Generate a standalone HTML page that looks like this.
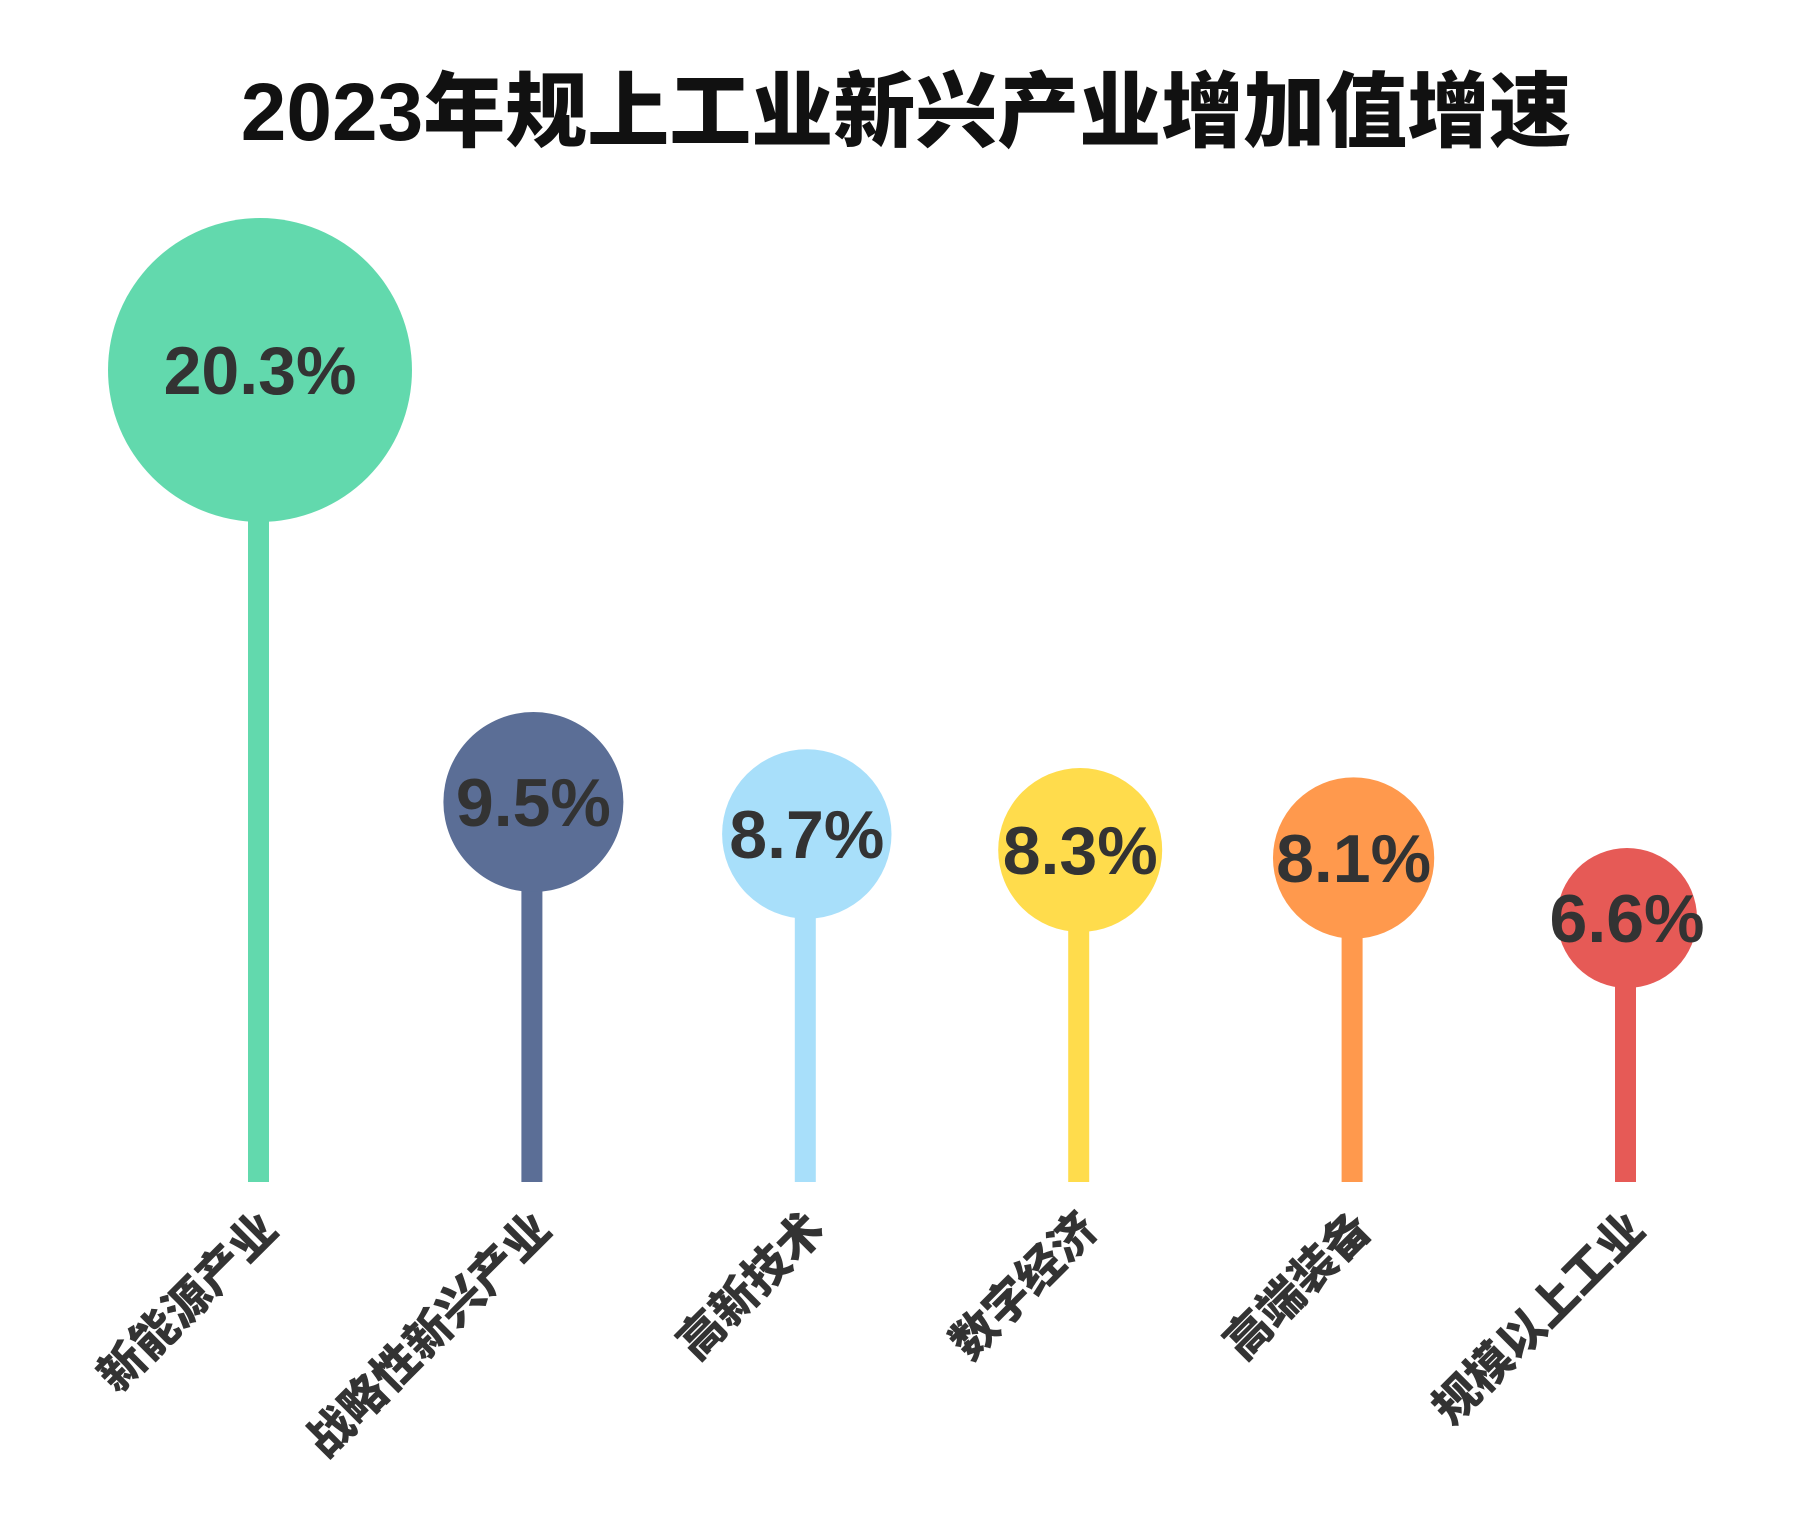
<!DOCTYPE html>
<html><head><meta charset="utf-8"><style>
body{margin:0;background:#fff}
svg text{font-family:"Liberation Sans","Noto Sans CJK SC",sans-serif;font-weight:900}
</style></head><body>
<svg width="1800" height="1530" viewBox="0 0 1800 1530">
<text x="906" y="140" text-anchor="middle" font-size="82" fill="#111">2023年规上工业新兴产业增加值增速</text>
<g id="marks"></g>
</svg>
<script>
const categories=["新能源产业","战略性新兴产业","高新技术","数字经济","高端装备","规模以上工业"];
const values=[20.3,9.5,8.7,8.3,8.1,6.6];
const labels=["20.3%","9.5%","8.7%","8.3%","8.1%","6.6%"];
const colors=["#62D9AD","#5B6E96","#A8DFFA","#FFDC4C","#FF994D","#E65A56"];
const NS="http://www.w3.org/2000/svg";
const g=document.getElementById('marks');
const baseY=1182;
function xAt(i){return 258+273.4*i;}
function yAt(v){return baseY-v*40;}
function rAt(v){return 70*Math.pow(v/6.6,0.69);}
values.forEach((v,i)=>{
  const x=xAt(i),y=yAt(v),r=rAt(v);
  const s=document.createElementNS(NS,'rect');
  
  
  s.setAttribute('x',x-10);s.setAttribute('y',y);s.setAttribute('width',21);s.setAttribute('height',baseY-y);s.setAttribute('fill',colors[i]);
  g.appendChild(s);
  const c=document.createElementNS(NS,'circle');
  
  
  c.setAttribute('cx',x+2);c.setAttribute('cy',y);c.setAttribute('r',r);c.setAttribute('fill',colors[i]);
  g.appendChild(c);
  const t=document.createElementNS(NS,'text');
  
  
  t.setAttribute('x',x+2);t.setAttribute('y',y+24);t.setAttribute('text-anchor','middle');t.setAttribute('font-size','68');t.setAttribute('fill','#333');
  t.textContent=labels[i];
  g.appendChild(t);
  const l=document.createElementNS(NS,'text');
  
  
  l.setAttribute('text-anchor','end');l.setAttribute('font-size','46');l.setAttribute('fill','#333');
  l.setAttribute('transform','translate('+(x+22)+',1232) rotate(-45)');
  l.textContent=categories[i];
  g.appendChild(l);
});
</script>
</body></html>
